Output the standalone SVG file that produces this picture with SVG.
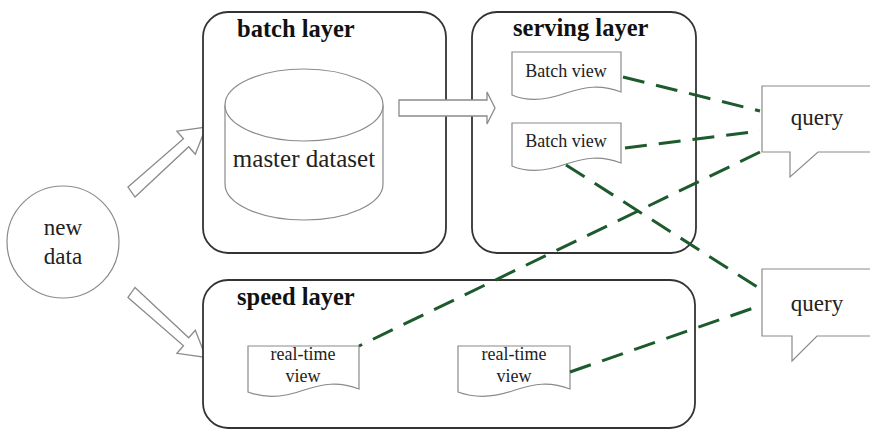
<svg xmlns="http://www.w3.org/2000/svg" width="870" height="431" viewBox="0 0 870 431">
<style>
.box{fill:#fff;stroke:#333;stroke-width:1.8}
.thin{fill:#fff;stroke:#8a8a8a;stroke-width:1.2}
.arr{fill:#fff;stroke:#8a8a8a;stroke-width:1.3;stroke-linejoin:miter}
text{font-family:"Liberation Serif","Times New Roman",serif}
.title{font-weight:bold;font-size:24.5px;fill:#111}
.lbl{fill:#222;text-anchor:middle}
.dash{fill:none;stroke:#1d5a2c;stroke-width:3;stroke-dasharray:22 12}
</style>
<rect width="870" height="431" fill="#fff"/>
<g id="arrows-in">
<polygon class="arr" points="128,187 183.5,138.8 176.9,131.2 206,127 195.3,154.3 188.7,146.8 135,197"/>
<polygon class="arr" points="128,297.5 183.5,345.7 176.9,353.3 206,357.5 195.3,330.2 188.7,337.7 135,287.5"/>
</g>
<g id="new-data">
<circle class="thin" cx="63" cy="242" r="56"/>
<text class="lbl" x="63" y="235" font-size="23" font-family="Liberation Serif, serif">new</text>
<text class="lbl" x="63" y="264" font-size="23" font-family="Liberation Serif, serif">data</text>
</g>
<g id="batch-layer">
<rect class="box" x="203" y="12" width="243" height="241" rx="25"/>
<text class="title" x="237" y="37" font-family="Liberation Serif, serif">batch layer</text>
</g>
<g id="master-dataset">
<path class="thin" d="M225,105 V184 A79,36 0 0 0 383,184 V105"/>
<ellipse class="thin" cx="304" cy="105" rx="79" ry="36"/>
<text class="lbl" x="304" y="167" font-size="25" font-family="Liberation Serif, serif">master dataset</text>
</g>
<g id="serving-layer">
<rect class="box" x="472" y="12" width="224" height="241" rx="25"/>
<text class="title" x="513" y="36" font-family="Liberation Serif, serif">serving layer</text>
</g>
<g id="batch-view-1">
<path class="thin" d="M512,52 H621 V92 C600,84 585,87 566,93 C547,100 528,102 512,95 Z"/>
<text class="lbl" x="566" y="77" font-size="18" font-family="Liberation Serif, serif">Batch view</text>
</g>
<g id="batch-view-2">
<path class="thin" d="M512,123 H621 V163 C600,155 585,158 566,164 C547,171 528,173 512,166 Z"/>
<text class="lbl" x="566" y="147" font-size="18" font-family="Liberation Serif, serif">Batch view</text>
</g>
<g id="speed-layer">
<rect class="box" x="203" y="280" width="492" height="148" rx="25"/>
<text class="title" x="237" y="305" font-family="Liberation Serif, serif">speed layer</text>
</g>
<g id="real-time-view-1">
<path class="thin" d="M248,346 H359 V389 C338,381 323,384 304,390 C285,397 266,399 248,392 Z"/>
<text class="lbl" x="303" y="360" font-size="18" font-family="Liberation Serif, serif">real-time</text>
<text class="lbl" x="303" y="382" font-size="18" font-family="Liberation Serif, serif">view</text>
</g>
<g id="real-time-view-2">
<path class="thin" d="M458,346 H570 V389 C549,381 534,384 515,390 C496,397 477,399 458,392 Z"/>
<text class="lbl" x="514" y="360" font-size="18" font-family="Liberation Serif, serif">real-time</text>
<text class="lbl" x="514" y="382" font-size="18" font-family="Liberation Serif, serif">view</text>
</g>
<g id="query-1">
<path class="thin" d="M762,86 H885 V152 H818 L790,177 V152 H762 Z"/>
<text class="lbl" x="817" y="125" font-size="23" font-family="Liberation Serif, serif">query</text>
</g>
<g id="query-2">
<path class="thin" d="M762,269 H885 V336 H817 L792,361 V336 H762 Z"/>
<text class="lbl" x="817" y="311" font-size="23" font-family="Liberation Serif, serif">query</text>
</g>
<g id="arrow-batch-serving">
<polygon class="arr" points="399,100 487,100 487,92 495,108 487,124 487,116 399,116"/>
</g>
<g id="connectors">
<line class="dash" x1="623" y1="77" x2="760" y2="111"/>
<line class="dash" x1="625" y1="148" x2="760" y2="131"/>
<line class="dash" x1="760" y1="152" x2="359" y2="346"/>
<line class="dash" x1="566" y1="165" x2="762" y2="290"/>
<line class="dash" x1="570" y1="372" x2="762" y2="305"/>
</g>
</svg>
